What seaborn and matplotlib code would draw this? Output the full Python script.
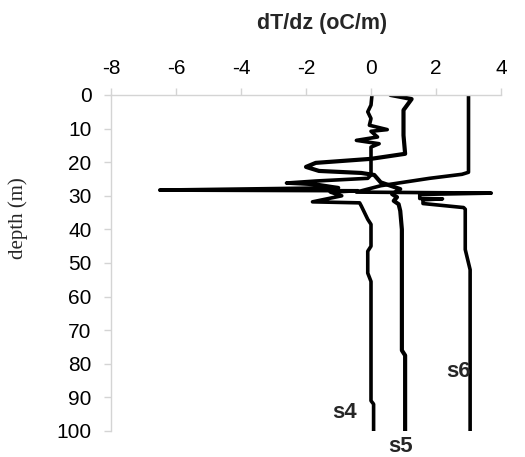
import matplotlib
matplotlib.use("Agg")
import matplotlib.pyplot as plt
import seaborn as sns
import pandas as pd

# Temperature-gradient profiles (dT/dz, degC per m) versus depth (m)
s4_dtdz = [0.03, 0.0, -0.1, 0.0, -0.05, 0.5, 0.0, 0.2, -0.45, 0.25, 0.0, 0.0,
           -0.1, -1.7, -2.6, -1.6, -1.0, -6.5, -0.4, -1.25, -0.9, -1.8, -0.35,
           -0.3, -0.2, -0.1, 0.0, 0.0, -0.1, -0.1, 0.0, 0.0, 0.08, 0.08]
s4_depth = [0, 3, 5, 7, 9, 10.3, 10.8, 12.5, 13.5, 14.5, 15.5, 23.8,
            24.8, 25.6, 26.2, 26.7, 27.6, 28.3, 28.5, 28.9, 30.0, 31.8, 32.1,
            33, 35, 37, 38.5, 45, 46.5, 53, 55.5, 91, 92, 100]

s5_dtdz = [0.6, 1.25, 1.0, 1.0, 1.05, 0.0, -1.7, -2.0, -1.6, -0.3, 0.1,
           0.3, 0.6, 0.9, 0.65, 0.8, 0.7, 0.85, 0.9, 0.95, 0.95, 1.05, 1.05]
s5_depth = [0, 1.2, 4.5, 12, 17.5, 19.0, 20.2, 21.4, 22.6, 23.2, 23.8,
            26, 27, 28, 29.5, 30.4, 31.5, 32.5, 34.5, 40, 76, 77.5, 100]

s6_dtdz = [3.0, 3.0, 2.8, 1.8, 0.3, -0.45, 3.7, 1.5, 1.5, 2.2, 1.6, 1.6,
           2.85, 2.9, 2.9, 3.05, 3.05]
s6_depth = [0, 23, 23.6, 24.8, 27.0, 28.9, 29.2, 29.6, 30.8, 30.9, 31.2,
            32.3, 33.5, 34, 46, 52, 100]

series = {"s4": (s4_dtdz, s4_depth),
          "s5": (s5_dtdz, s5_depth),
          "s6": (s6_dtdz, s6_depth)}

x_ticks = [-8, -6, -4, -2, 0, 2, 4]
y_ticks = [0, 10, 20, 30, 40, 50, 60, 70, 80, 90, 100]

# Series names and where they sit (dT/dz, depth)
labels = ["s4", "s5", "s6"]
label_x = [-0.8, 0.92, 2.68]
label_depth = [94.6, 104.6, 82.4]

rows = []
for name, (xs, ds) in series.items():
    for i, (x, d) in enumerate(zip(xs, ds)):
        rows.append({"series": name, "order": i, "dTdz": x, "depth": d})
df = pd.DataFrame(rows)

sns.set_theme(style="white")
plt.rcParams["font.family"] = ["Liberation Sans", "DejaVu Sans"]

fig = plt.figure(figsize=(5.25, 4.57), dpi=100)
ax = fig.add_axes([111 / 525, 1 - 431 / 457, 390 / 525, 336 / 457])

for name in labels:
    sub = df[df["series"] == name]
    sns.lineplot(data=sub, x="dTdz", y="depth", sort=False, estimator=None,
                 color="black", lw=2.6 if name != "s5" else 3.0, ax=ax,
                 legend=False)

ax.set_xlim(-8, 4)
ax.set_ylim(100, 0)
ax.set_xticks(x_ticks)
ax.set_yticks(y_ticks)
ax.set_xticklabels([str(t) for t in x_ticks])
ax.set_yticklabels([str(t) for t in y_ticks])

ax.xaxis.tick_top()
ax.xaxis.set_label_position("top")
ax.set_xlabel("")
ax.set_ylabel("")

grey = "#d4d4d4"
for side in ["right", "bottom"]:
    ax.spines[side].set_visible(False)
for side in ["left", "top"]:
    ax.spines[side].set_color(grey)
    ax.spines[side].set_linewidth(1.0)

ax.tick_params(axis="x", which="major", direction="out", length=5, width=1,
               color=grey, labelsize=15, pad=7, top=True, bottom=False)
ax.tick_params(axis="y", which="major", direction="out", length=5, width=1,
               color=grey, labelsize=15, pad=9, left=True)

for t in ax.get_xticklabels() + ax.get_yticklabels():
    t.set_color("black")

fig.text(322 / 525, 1 - 24 / 457, "dT/dz (oC/m)", ha="center", va="center",
         fontsize=15.5, fontweight="bold")
fig.text(18 / 525, 1 - 218 / 457, "depth (m)", rotation=90, ha="center",
         va="center", fontsize=15, family="Liberation Serif")

for lab, lx, ld in zip(labels, label_x, label_depth):
    ax.text(lx, ld, lab, ha="center", va="center", fontsize=16,
            fontweight="bold", clip_on=False)

fig.savefig("out.png", dpi=100, facecolor="white")
